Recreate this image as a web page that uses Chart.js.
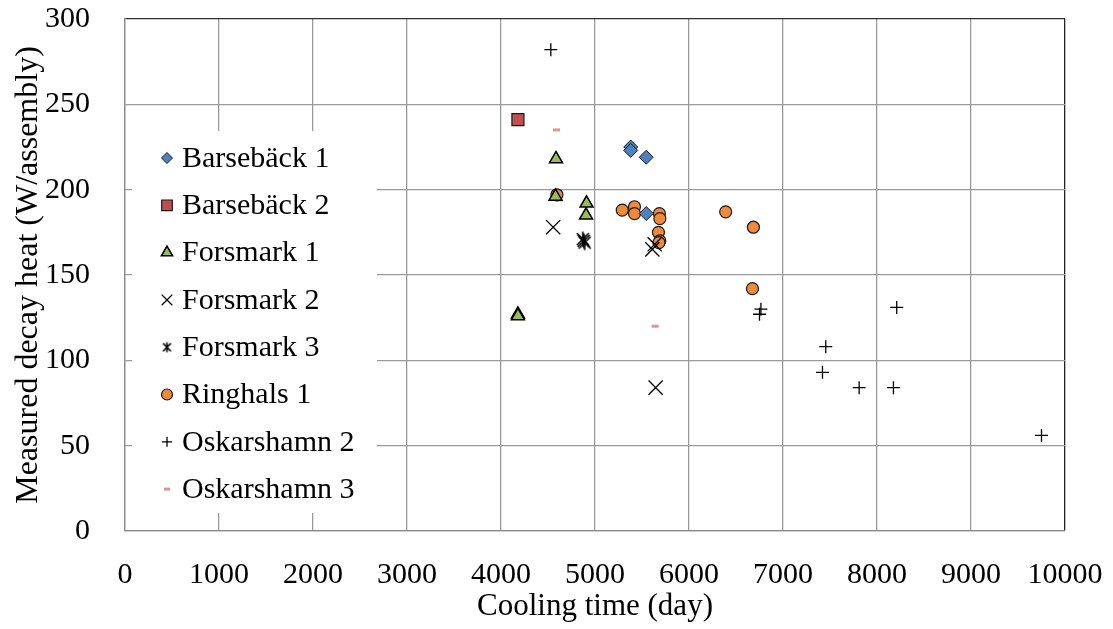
<!DOCTYPE html>
<html>
<head>
<meta charset="utf-8">
<script src="https://cdn.jsdelivr.net/npm/chart.js@4/dist/chart.umd.min.js"></script>
<style>
  body { margin: 0; background: #fff; }
  #chart { display: block; }
</style>
</head>
<body>
<canvas id="chart" width="1113" height="629"></canvas>
<script>
// cooling time (day) / measured decay heat (W/assembly)
const seriesNames = ['Barsebäck 1', 'Barsebäck 2', 'Forsmark 1', 'Forsmark 2', 'Forsmark 3', 'Ringhals 1', 'Oskarshamn 2', 'Oskarshamn 3'];

const barseback1X = [5380, 5380, 5545, 5545];
const barseback1Y = [225, 223, 219, 186];

const barseback2X = [4180];
const barseback2Y = [241];

const forsmark1X = [4585, 4580, 4910, 4905, 4180, 4180];
const forsmark1Y = [218, 196, 192, 185, 127, 126];

const forsmark2X = [4555, 5610, 5635, 5645];
const forsmark2Y = [178, 165, 168, 84];

const forsmark3X = [4870, 4890, 4880];
const forsmark3Y = [171, 169, 170];

const ringhals1X = [4595, 5290, 5420, 5420, 5685, 5690, 5675, 5690, 5680, 6390, 6685, 6675];
const ringhals1Y = [197, 188, 190, 186, 186, 183, 175, 170, 169, 187, 178, 142];

const oskarshamn2X = [4530, 6765, 6750, 8210, 7455, 7420, 7810, 8175, 9750];
const oskarshamn2Y = [282, 130, 127, 131, 108, 93, 84, 84, 56];

const oskarshamn3X = [4590, 4615, 5640];
const oskarshamn3Y = [235, 194, 120];

const xTicks = [0, 1000, 2000, 3000, 4000, 5000, 6000, 7000, 8000, 9000, 10000];
const yTicks = [0, 50, 100, 150, 200, 250, 300];

const FONT = '"Liberation Serif", "Times New Roman", serif';

function pts(xs, ys) {
  return xs.map((x, i) => ({ x, y: ys[i] }));
}

// excel style asterisk: an x with a vertical bar
function starMarker(size) {
  const c = document.createElement('canvas');
  c.width = size; c.height = size;
  const g = c.getContext('2d');
  const m = size / 2, r = size / 2 - 1.5;
  g.strokeStyle = '#000';
  g.lineWidth = 1.6;
  g.beginPath();
  g.moveTo(m - r * 0.8, m - r * 0.8); g.lineTo(m + r * 0.8, m + r * 0.8);
  g.moveTo(m + r * 0.8, m - r * 0.8); g.lineTo(m - r * 0.8, m + r * 0.8);
  g.moveTo(m, m - r); g.lineTo(m, m + r);
  g.stroke();
  return c;
}

const star = starMarker(18);
const starSmall = starMarker(13);

const datasets = [
  { label: seriesNames[0], data: pts(barseback1X, barseback1Y), pointStyle: 'rectRot', pointRadius: 7, backgroundColor: '#4F81BD', borderColor: '#1a1a1a', borderWidth: 1 },
  { label: seriesNames[1], data: pts(barseback2X, barseback2Y), pointStyle: 'rect', pointRadius: 8.5, backgroundColor: '#C0504D', borderColor: '#1a1a1a', borderWidth: 1.2 },
  { label: seriesNames[2], data: pts(forsmark1X, forsmark1Y), pointStyle: 'triangle', pointRadius: 7.5, backgroundColor: '#9BBB59', borderColor: '#000', borderWidth: 1.5 },
  { label: seriesNames[3], data: pts(forsmark2X, forsmark2Y), pointStyle: 'crossRot', pointRadius: 10, backgroundColor: '#000', borderColor: '#000', borderWidth: 1.3 },
  { label: seriesNames[4], data: pts(forsmark3X, forsmark3Y), pointStyle: star, pointRadius: 9, backgroundColor: '#000', borderColor: '#000', borderWidth: 1 },
  { label: seriesNames[5], data: pts(ringhals1X, ringhals1Y), pointStyle: 'circle', pointRadius: 6, backgroundColor: '#EE8A3C', borderColor: '#1a1a1a', borderWidth: 1.2 },
  { label: seriesNames[6], data: pts(oskarshamn2X, oskarshamn2Y), pointStyle: 'cross', pointRadius: 6.5, backgroundColor: '#000', borderColor: '#000', borderWidth: 1.3 },
  { label: seriesNames[7], data: pts(oskarshamn3X, oskarshamn3Y), pointStyle: 'line', pointRadius: 3.5, backgroundColor: '#D99694', borderColor: '#D99694', borderWidth: 3 },
];
datasets.forEach(d => { d.showLine = false; d.pointHoverRadius = d.pointRadius; });

// size of each legend marker, per point style
const legendRadius = { rectRot: 5.5, rect: 7.5, triangle: 6.5, crossRot: 7.5, circle: 5.5, cross: 5, line: 3 };

// legend sits inside the plot on a white box, like the excel original
const insideLegend = {
  id: 'insideLegend',
  beforeDatasetsDraw(chart) {
    const { ctx, chartArea: a } = chart;
    const bx = a.left + 7, by = a.top + 112;
    ctx.save();
    ctx.fillStyle = '#fff';
    ctx.fillRect(bx, by, 245, 382);
    ctx.font = '30px ' + FONT;
    ctx.textBaseline = 'middle';
    const draw = Chart.helpers && Chart.helpers.drawPoint;
    chart.data.datasets.forEach((ds, i) => {
      const y = by + 27 + i * 47.3;
      const x = bx + 35;
      ctx.fillStyle = ds.backgroundColor;
      ctx.strokeStyle = ds.borderColor;
      ctx.lineWidth = ds.borderWidth;
      if (ds.pointStyle === star) {
        ctx.drawImage(starSmall, x - 6.5, y - 6.5);
      } else if (draw) {
        draw(ctx, { pointStyle: ds.pointStyle, radius: legendRadius[ds.pointStyle], rotation: 0, borderWidth: ds.borderWidth }, x, y);
      }
      ctx.fillStyle = '#000';
      ctx.fillText(ds.label, x + 15, y + 1);
    });
    ctx.restore();
  }
};

const tickFont = { family: FONT, size: 30 };

// ticks.padding gets added to the plot margins, so the gap to the labels
// comes from an invisible tick mark instead
new Chart(document.getElementById('chart'), {
  type: 'scatter',
  data: { datasets },
  options: {
    responsive: false,
    animation: false,
    layout: { padding: { top: 19, right: 48, left: 0, bottom: 0 } },
    plugins: { legend: { display: false }, tooltip: { enabled: false } },
    scales: {
      x: {
        type: 'linear',
        min: 0, max: 10000,
        afterBuildTicks: s => { s.ticks = xTicks.map(v => ({ value: v })); },
        afterFit: s => { s.height = 98; },
        ticks: { color: '#000', font: tickFont, padding: 0, maxRotation: 0, callback: v => String(v) },
        grid: {
          drawTicks: true,
          tickLength: 26,
          tickColor: 'rgba(0,0,0,0)',
          lineWidth: 1.3,
          color: c => (c.tick && c.tick.value === 10000) ? '#222' : '#9a9a9a'
        },
        border: { color: '#8a8a8a', width: 1.3 },
        title: { display: true, text: 'Cooling time (day)', color: '#000', font: { family: FONT, size: 31 }, padding: { top: 0, bottom: 4 } }
      },
      y: {
        type: 'linear',
        min: 0, max: 300,
        afterBuildTicks: s => { s.ticks = yTicks.map(v => ({ value: v })); },
        afterFit: s => { s.width = 125; },
        ticks: { color: '#000', font: tickFont, padding: 0, callback: v => String(v) },
        grid: {
          drawTicks: true,
          tickLength: 35,
          tickColor: 'rgba(0,0,0,0)',
          lineWidth: 1.3,
          color: c => (c.tick && c.tick.value === 300) ? '#333' : '#9a9a9a'
        },
        border: { color: '#8a8a8a', width: 1.3 },
        title: { display: true, text: 'Measured decay heat (W/assembly)', color: '#000', font: { family: FONT, size: 32 }, padding: { top: 9, bottom: 0 } }
      }
    }
  },
  plugins: [insideLegend]
});
</script>
</body>
</html>
